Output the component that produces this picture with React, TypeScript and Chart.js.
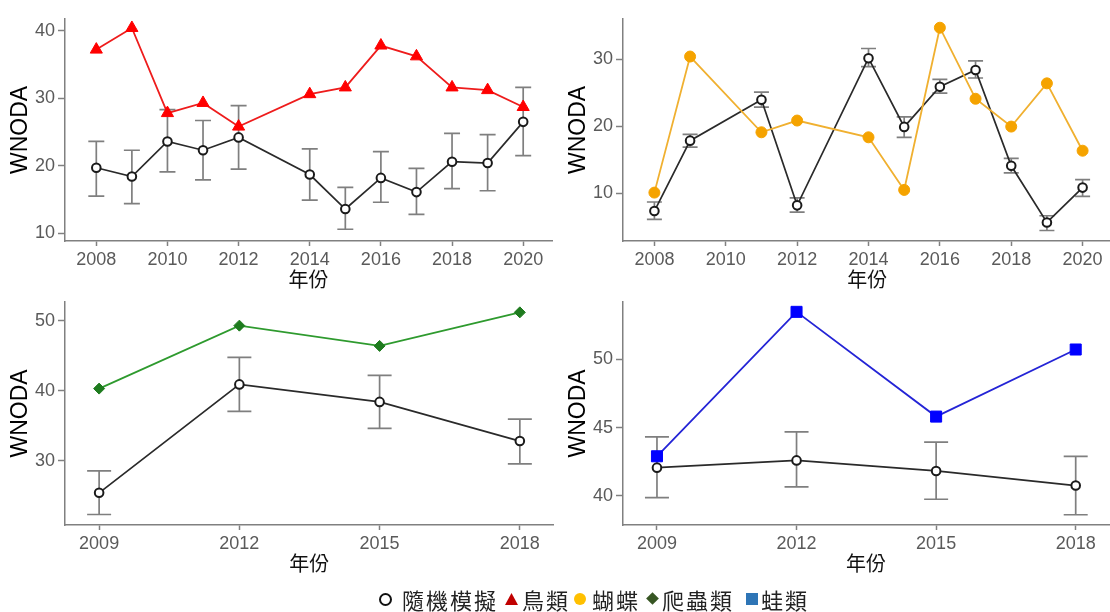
import React, { useEffect, useRef } from "react";
import { Chart, registerables } from "chart.js";

Chart.register(...registerables);

// ---------- data ----------
const yearsBirds = [2008, 2009, 2010, 2011, 2012, 2014, 2015, 2016, 2017, 2018, 2019, 2020];
const birdValues = [37.2, 40.4, 27.8, 29.3, 25.8, 30.6, 31.6, 37.8, 36.2, 31.6, 31.2, 28.7];
const birdRandomMean = [19.7, 18.4, 23.6, 22.3, 24.2, 18.7, 13.6, 18.2, 16.1, 20.6, 20.4, 26.5];
const birdRandomUpper = [23.6, 22.3, 28.3, 26.7, 28.9, 22.5, 16.8, 22.1, 19.6, 24.8, 24.6, 31.6];
const birdRandomLower = [15.5, 14.4, 19.1, 17.9, 19.5, 14.9, 10.6, 14.6, 12.8, 16.6, 16.3, 21.5];

const yearsButterflies = [2008, 2009, 2011, 2012, 2014, 2015, 2016, 2017, 2018, 2019, 2020];
const butterflyValues = [10.1, 30.4, 19.1, 20.85, 18.35, 10.5, 34.7, 24.1, 19.95, 26.4, 16.35];
const butterflyRandomMean = [7.35, 17.85, 23.95, 8.2, 30.15, 19.9, 25.9, 28.4, 14.1, 5.65, 10.85];
const butterflyRandomUpper = [8.7, 18.8, 25.1, 9.3, 31.6, 21.4, 27.0, 29.75, 15.2, 6.65, 12.05];
const butterflyRandomLower = [6.1, 16.9, 22.85, 7.2, 28.9, 18.35, 24.95, 27.2, 13.05, 4.45, 9.55];

const yearsReptiles = [2009, 2012, 2015, 2018];
const reptileValues = [40.3, 49.3, 46.4, 51.2];
const reptileRandomMean = [25.4, 40.9, 38.4, 32.8];
const reptileRandomUpper = [28.55, 44.75, 42.2, 35.95];
const reptileRandomLower = [22.3, 37.05, 34.6, 29.55];

const yearsFrogs = [2009, 2012, 2015, 2018];
const frogValues = [42.9, 53.45, 45.8, 50.7];
const frogRandomMean = [42.07, 42.6, 41.83, 40.76];
const frogRandomUpper = [44.32, 44.68, 43.93, 42.9];
const frogRandomLower = [39.88, 40.66, 39.76, 38.63];

const xTicksTop = [2008, 2010, 2012, 2014, 2016, 2018, 2020];
const xTicksBottom = [2009, 2012, 2015, 2018];
const yTicksBirds = [10, 20, 30, 40];
const yTicksButterflies = [10, 20, 30];
const yTicksReptiles = [30, 40, 50];
const yTicksFrogs = [40, 45, 50];

const xAxisTitle = "年份";
const yAxisTitle = "WNODA";

// ---------- helpers ----------
const AXIS = "#808080";
const TICK_TEXT = "#5a5a5a";

function makeErrorBarPlugin(xs: number[], lower: number[], upper: number[], halfWidth: number) {
  return {
    id: "errorBars",
    beforeDatasetsDraw(chart: any) {
      const { ctx } = chart;
      const xs_ = chart.scales.x;
      const ys_ = chart.scales.y;
      ctx.save();
      ctx.strokeStyle = "#7f7f7f";
      ctx.lineWidth = 1.7;
      xs.forEach((xv, i) => {
        const px = xs_.getPixelForValue(xv);
        const pu = ys_.getPixelForValue(upper[i]);
        const pl = ys_.getPixelForValue(lower[i]);
        ctx.beginPath();
        ctx.moveTo(px, pu);
        ctx.lineTo(px, pl);
        ctx.moveTo(px - halfWidth, pu);
        ctx.lineTo(px + halfWidth, pu);
        ctx.moveTo(px - halfWidth, pl);
        ctx.lineTo(px + halfWidth, pl);
        ctx.stroke();
      });
      ctx.restore();
    },
  };
}

type PanelProps = {
  years: number[];
  values: number[];
  mean: number[];
  upper: number[];
  lower: number[];
  xTicks: number[];
  yTicks: number[];
  xMin: number;
  xMax: number;
  yMin: number;
  yMax: number;
  lineColor: string;
  pointColor: string;
  pointStyle: string;
  pointRadius: number;
  capHalf: number;
  left: number;
  top: number;
  padTop: number;
};

function Panel(p: PanelProps) {
  const ref = useRef<HTMLCanvasElement | null>(null);
  useEffect(() => {
    if (!ref.current) return;
    const chart = new Chart(ref.current, {
      type: "line",
      data: {
        datasets: [
          {
            data: p.years.map((x, i) => ({ x, y: p.values[i] })),
            borderColor: p.lineColor,
            borderWidth: 1.8,
            pointStyle: p.pointStyle as any,
            pointRadius: p.pointRadius,
            pointBackgroundColor: p.pointColor,
            pointBorderColor: p.pointColor,
            pointBorderWidth: 1,
            order: 0,
            clip: false as any,
          },
          {
            data: p.years.map((x, i) => ({ x, y: p.mean[i] })),
            borderColor: "#2a2a2a",
            borderWidth: 1.7,
            pointStyle: "circle",
            pointRadius: 4.3,
            pointBackgroundColor: "#ffffff",
            pointBorderColor: "#1a1a1a",
            pointBorderWidth: 2,
            order: 1,
            clip: false as any,
          },
        ],
      },
      options: {
        animation: false,
        responsive: false,
        devicePixelRatio: 1,
        layout: { padding: { top: p.padTop, right: 2, left: 0, bottom: 0 } },
        plugins: { legend: { display: false }, tooltip: { enabled: false } },
        scales: {
          x: {
            type: "linear",
            min: p.xMin,
            max: p.xMax,
            afterBuildTicks: (s: any) => {
              s.ticks = p.xTicks.map((v) => ({ value: v }));
            },
            afterFit: (s: any) => {
              s.height = 59;
            },
            grid: { drawOnChartArea: false, drawTicks: true, tickLength: 5, tickColor: AXIS, tickWidth: 1.5 },
            border: { display: true, color: AXIS, width: 1.5 },
            ticks: {
              color: TICK_TEXT,
              font: { family: "'Liberation Sans', Arial, sans-serif", size: 18 },
              padding: 3,
              maxRotation: 0,
              autoSkip: false,
              callback: (v: any) => String(v),
            },
            title: {
              display: true,
              text: xAxisTitle,
              color: "#111111",
              font: { family: "'Noto Sans CJK TC', sans-serif", size: 20 },
              padding: { top: 0, bottom: 9 },
            },
          },
          y: {
            type: "linear",
            min: p.yMin,
            max: p.yMax,
            afterBuildTicks: (s: any) => {
              s.ticks = p.yTicks.map((v) => ({ value: v }));
            },
            afterFit: (s: any) => {
              s.width = 65;
            },
            grid: { drawOnChartArea: false, drawTicks: true, tickLength: 7, tickColor: AXIS, tickWidth: 1.5 },
            border: { display: true, color: AXIS, width: 1.5 },
            ticks: {
              color: TICK_TEXT,
              font: { family: "'Liberation Sans', Arial, sans-serif", size: 18 },
              padding: 3,
              autoSkip: false,
              callback: (v: any) => String(v),
            },
            title: {
              display: true,
              text: yAxisTitle,
              color: "#000000",
              font: { family: "'Liberation Sans', Arial, sans-serif", size: 23 },
              padding: { top: 7, bottom: 0 },
            },
          },
        },
      } as any,
      plugins: [makeErrorBarPlugin(p.years, p.lower, p.upper, p.capHalf)],
    });
    return () => chart.destroy();
  }, []);
  return (
    <div style={{ position: "absolute", left: p.left, top: p.top, width: 560, height: 300 }}>
      <canvas ref={ref} width={560} height={300} style={{ width: 560, height: 300, display: "block" }} />
    </div>
  );
}

const legendFont: React.CSSProperties = {
  position: "absolute",
  top: 586,
  fontFamily: "'Noto Sans CJK TC', sans-serif",
  fontSize: 22,
  letterSpacing: 2,
  lineHeight: "26px",
  color: "#222",
  whiteSpace: "nowrap",
};

function Legend() {
  return (
    <>
      <span
        style={{
          position: "absolute",
          left: 379,
          top: 593,
          width: 9,
          height: 9,
          border: "2px solid #111",
          borderRadius: "50%",
        }}
      />
      <span style={{ ...legendFont, left: 402 }}>隨機模擬</span>
      <span
        style={{
          position: "absolute",
          left: 505,
          top: 593,
          width: 13,
          height: 12,
          background: "#C00000",
          clipPath: "polygon(50% 0, 100% 100%, 0 100%)",
        }}
      />
      <span style={{ ...legendFont, left: 522 }}>鳥類</span>
      <span
        style={{
          position: "absolute",
          left: 574,
          top: 593,
          width: 12,
          height: 12,
          background: "#FFC000",
          borderRadius: "50%",
        }}
      />
      <span style={{ ...legendFont, left: 592 }}>蝴蝶</span>
      <span
        style={{
          position: "absolute",
          left: 648,
          top: 594,
          width: 9,
          height: 9,
          background: "#375623",
          transform: "rotate(45deg)",
        }}
      />
      <span style={{ ...legendFont, left: 662 }}>爬蟲類</span>
      <span
        style={{
          position: "absolute",
          left: 746,
          top: 593,
          width: 12,
          height: 12,
          background: "#2E75B6",
        }}
      />
      <span style={{ ...legendFont, left: 761 }}>蛙類</span>
    </>
  );
}

export default function App() {
  return (
    <div
      style={{
        position: "absolute",
        left: 0,
        top: 0,
        width: 1110,
        height: 612,
        overflow: "hidden",
        background: "#ffffff",
      }}
    >
      <Panel
        years={yearsBirds}
        values={birdValues}
        mean={birdRandomMean}
        upper={birdRandomUpper}
        lower={birdRandomLower}
        xTicks={xTicksTop}
        yTicks={yTicksBirds}
        xMin={2007.12}
        xMax={2020.81}
        yMin={8.86}
        yMax={41.73}
        lineColor="#EE1C1C"
        pointColor="#FF0000"
        pointStyle="triangle"
        pointRadius={7}
        capHalf={8}
        left={0}
        top={0}
        padTop={19}
      />
      <Panel
        years={yearsButterflies}
        values={butterflyValues}
        mean={butterflyRandomMean}
        upper={butterflyRandomUpper}
        lower={butterflyRandomLower}
        xTicks={xTicksTop}
        yTicks={yTicksButterflies}
        xMin={2007.12}
        xMax={2020.81}
        yMin={2.88}
        yMax={36.0}
        lineColor="#F0B030"
        pointColor="#F5A300"
        pointStyle="circle"
        pointRadius={5.5}
        capHalf={7.5}
        left={558}
        top={0}
        padTop={19}
      />
      <Panel
        years={yearsReptiles}
        values={reptileValues}
        mean={reptileRandomMean}
        upper={reptileRandomUpper}
        lower={reptileRandomLower}
        xTicks={xTicksBottom}
        yTicks={yTicksReptiles}
        xMin={2008.27}
        xMax={2018.72}
        yMin={20.8}
        yMax={52.68}
        lineColor="#2E9A2E"
        pointColor="#1E7B1E"
        pointStyle="rectRot"
        pointRadius={5.5}
        capHalf={12}
        left={0}
        top={284}
        padTop={18}
      />
      <Panel
        years={yearsFrogs}
        values={frogValues}
        mean={frogRandomMean}
        upper={frogRandomUpper}
        lower={frogRandomLower}
        xTicks={xTicksBottom}
        yTicks={yTicksFrogs}
        xMin={2008.27}
        xMax={2018.72}
        yMin={37.88}
        yMax={54.17}
        lineColor="#2424D6"
        pointColor="#0000FF"
        pointStyle="rect"
        pointRadius={7.8}
        capHalf={12}
        left={558}
        top={284}
        padTop={18}
      />
      <Legend />
    </div>
  );
}
